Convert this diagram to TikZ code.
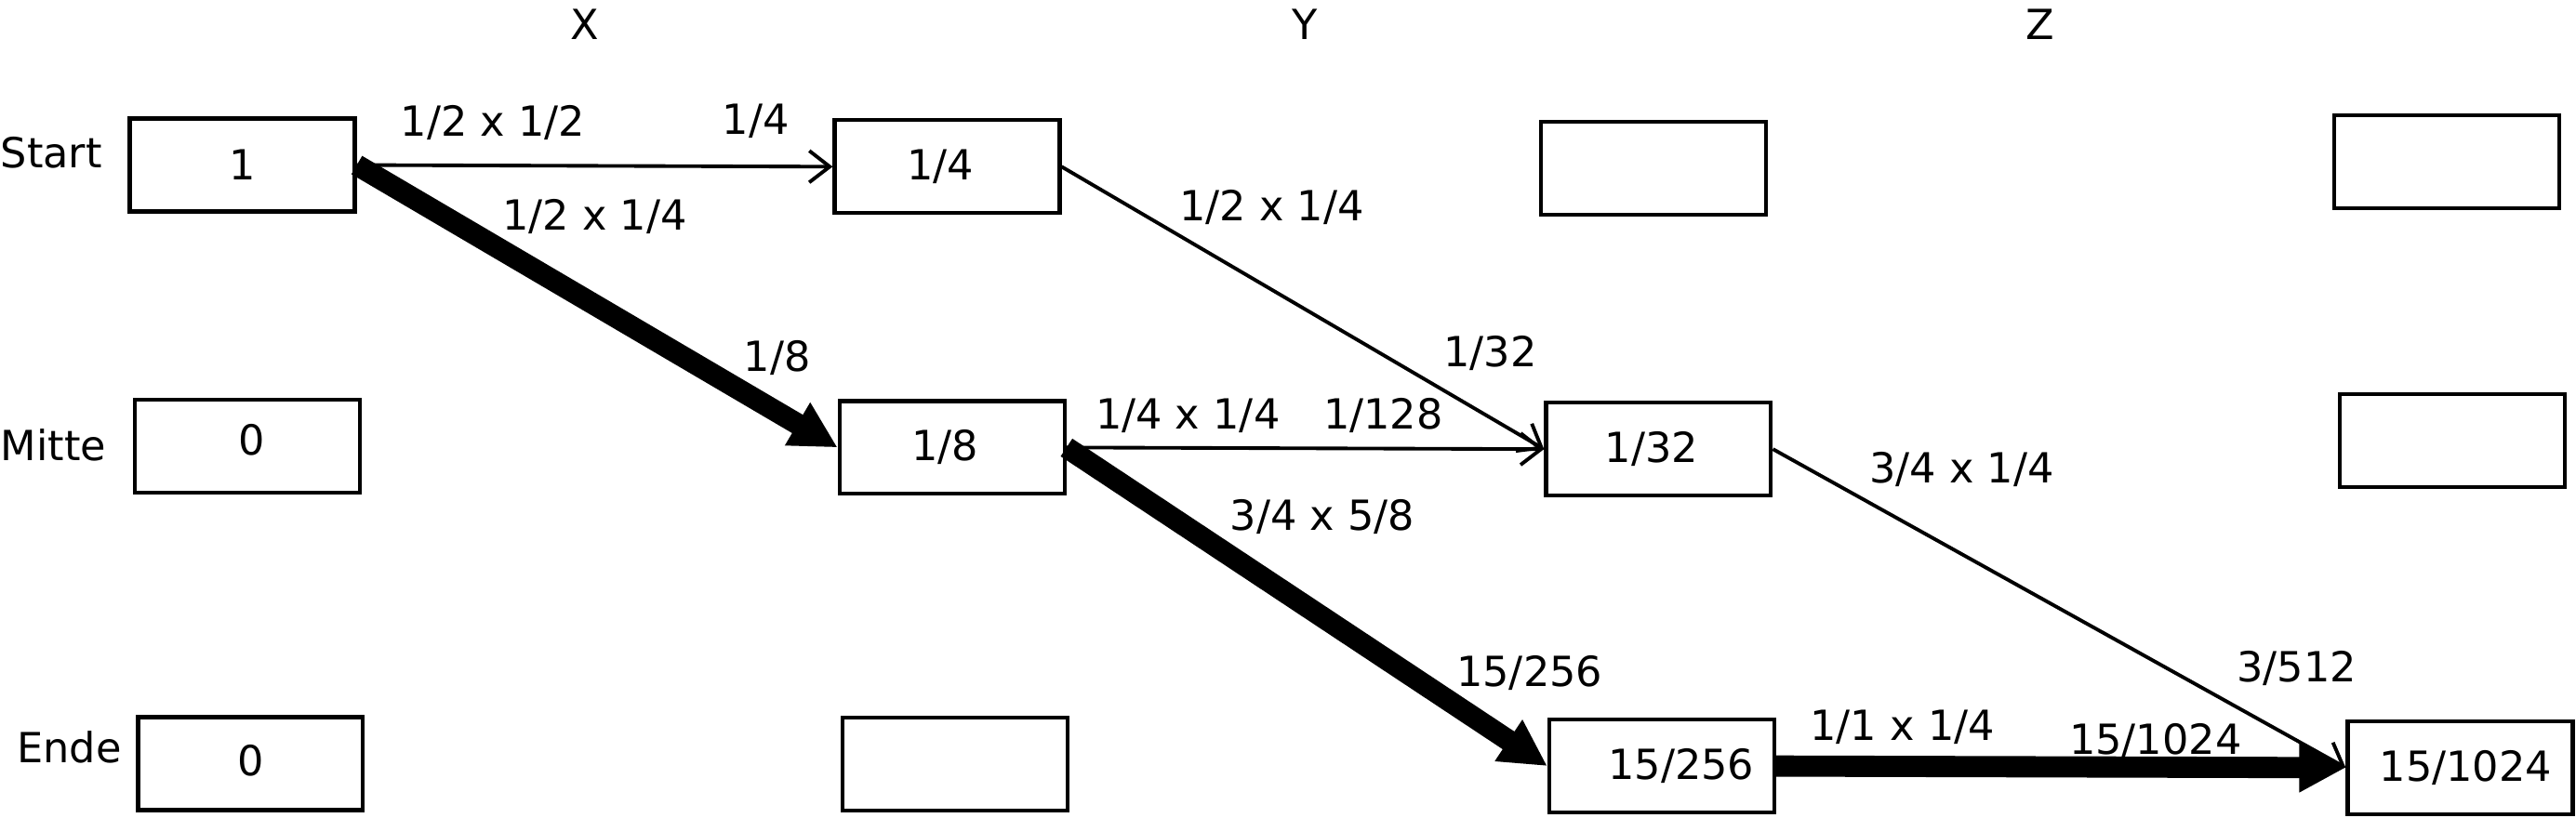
\documentclass[tikz,border=0pt]{standalone}
\usepackage{fontspec}
\setmainfont{DejaVu Sans}
\usetikzlibrary{arrows.meta}
\begin{document}
\begin{tikzpicture}[x=0.017666cm,y=-0.017666cm,
  font=\fontsize{12.7pt}{15pt}\selectfont,
  box/.style={draw=black,line width=1.2pt,minimum width=2.42cm,minimum height=1.0cm,inner sep=0pt},
  thin/.style={line width=1.1pt,-{Straight Barb[length=0.22cm,width=0.34cm,line width=1.1pt]}},
  thick/.style={line width=6.5pt,-{Triangle[length=0.5cm,width=0.5cm]}},
  lab/.style={inner sep=0pt}]
\useasboundingbox (0,0) rectangle (1568,498);
% column headers
\node[lab] (hx) at (356,15) {X};
\node[lab] (hy) at (794,15) {Y};
\node[lab] (hz) at (1242,15) {Z};
% row labels
\node[lab,anchor=west] (rs) at (0,93) {Start};
\node[lab,anchor=west] (rm) at (0,271) {Mitte};
\node[lab,anchor=west] (re) at (10,455) {Ende};
% boxes
\node[box] (a1) at (147.5,100.5) {1};
\node[box] (a2) at (576.5,101.5) {1/4\hspace*{0.15cm}};
\node[box] (a3) at (1006.5,102.5) {};
\node[box] (a4) at (1489.5,98.5) {};
\node[box] (b1) at (150.5,271.5) {\raisebox{4pt}{\hspace*{0.1cm}0}};
\node[box] (b2) at (579.5,272.5) {1/8\hspace*{0.15cm}};
\node[box] (b3) at (1009.5,273.5) {1/32\hspace*{0.15cm}};
\node[box] (b4) at (1492.5,268.5) {};
\node[box] (c1) at (152.5,465) {\raisebox{2pt}{0}};
\node[box] (c2) at (581.5,465.5) {};
\node[box] (c3) at (1011.5,466.5) {\hspace*{0.42cm}15/256};
\node[box] (c4) at (1497.5,467.5) {\hspace*{0.12cm}15/1024};
% edges
\draw[thin] (a1.east) -- (a2.west);
\draw[thick] (a1.east) -- (b2.west);
\draw[thin] (a2.east) -- (b3.west);
\draw[thin] (b2.east) -- (b3.west);
\draw[thick] (b2.east) -- (c3.west);
\draw[thin] (b3.east) -- (c4.west);
\draw[thick] (c3.east) -- (c4.west);
% edge labels
\node[lab] (e1) at (300,75) {1/2 x 1/2};
\node[lab] (e2) at (460,74) {1/4};
\node[lab] (e3) at (362,132) {1/2 x 1/4};
\node[lab] (e4) at (473,218) {1/8};
\node[lab] (e5) at (774,126) {1/2 x 1/4};
\node[lab] (e6) at (907,215) {1/32};
\node[lab] (e7) at (723,253) {1/4 x 1/4};
\node[lab] (e8) at (842,253) {1/128};
\node[lab] (e9) at (805,315) {3/4 x 5/8};
\node[lab] (e10) at (931,410) {15/256};
\node[lab] (e11) at (1194,286) {3/4 x 1/4};
\node[lab] (e12) at (1398,407) {3/512};
\node[lab] (e13) at (1158,443) {1/1 x 1/4};
\node[lab] (e14) at (1312,451) {15/1024};
\end{tikzpicture}
\end{document}
